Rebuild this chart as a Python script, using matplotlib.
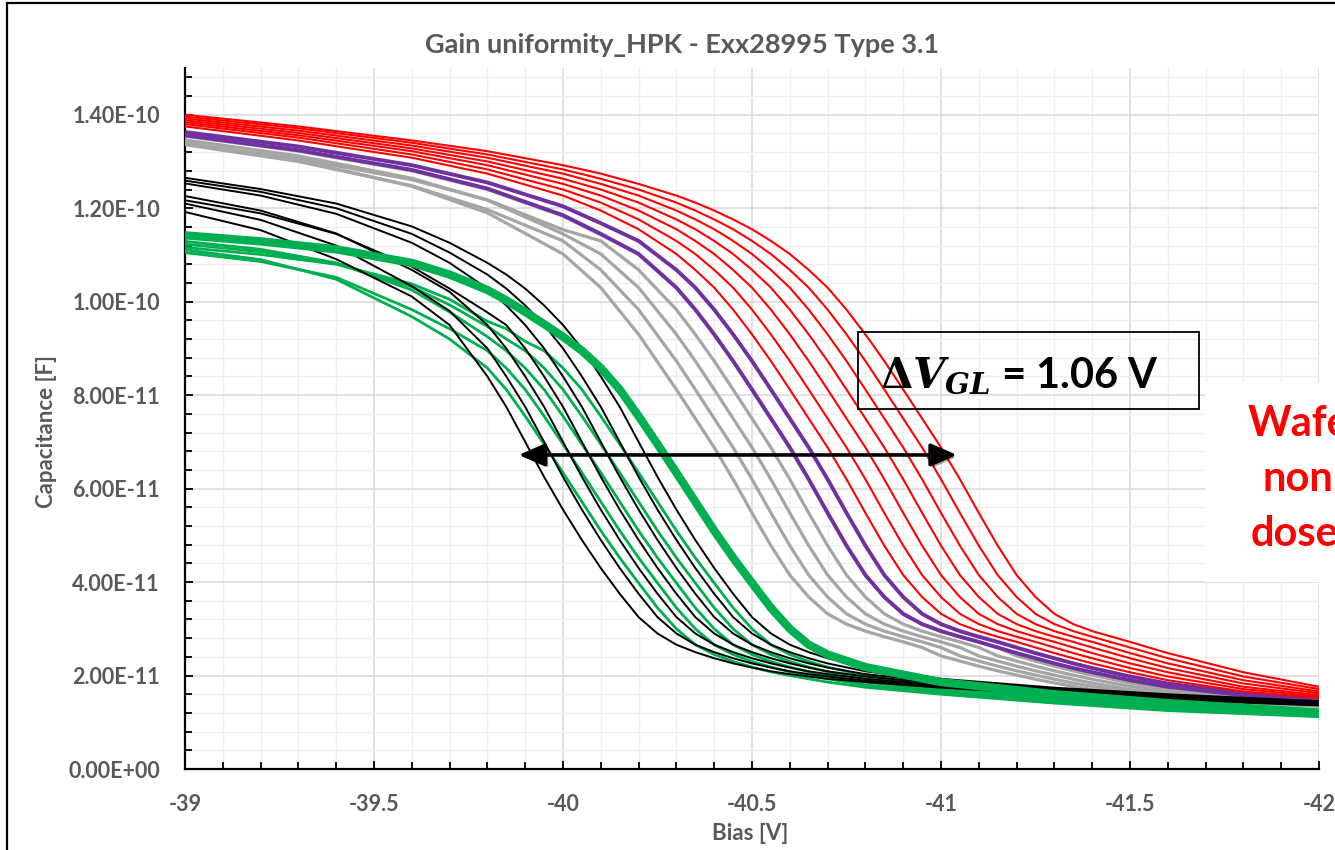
import matplotlib.pyplot as plt
import matplotlib.patheffects as pe
from matplotlib.patches import Rectangle
from matplotlib.ticker import MultipleLocator, FuncFormatter

plt.rcParams['font.family'] = ['Lato', 'DejaVu Sans']
plt.rcParams['font.weight'] = 'bold'
plt.rcParams['mathtext.fontset'] = 'custom'
plt.rcParams['mathtext.rm'] = 'DejaVu Serif:bold'
plt.rcParams['mathtext.it'] = 'DejaVu Serif:italic:bold'
plt.rcParams['mathtext.bf'] = 'DejaVu Serif:bold'

TITLE = 'Gain uniformity_HPK - Exx28995 Type 3.1'
X_LABEL = 'Bias [V]'
Y_LABEL = 'Capacitance [F]'
DELTA_TEXT = r'$\Delta V_{GL}$ = 1.06 V'
NOTE_TEXT = 'Wafer\nnon-\ndosed'

# capacitance values are in units of 1E-11 F
SCALE = 1e-11

# bias points used for the late curves (grey, purple, red)
GRID_HIGH = [-39.0, -39.3, -39.6, -39.8, -40.0, -40.1, -40.2, -40.3, -40.35, -40.4,
             -40.45, -40.5, -40.55, -40.6, -40.65, -40.7, -40.75, -40.8, -40.85, -40.9,
             -40.95, -41.0, -41.05, -41.1, -41.15, -41.2, -41.25, -41.3, -41.35, -41.4,
             -41.5, -41.6, -41.8, -42.0]

# bias points used for the early curves (black, green)
GRID_LOW = [-39.0, -39.2, -39.4, -39.6, -39.7, -39.8, -39.85, -39.9, -39.95, -40.0,
            -40.05, -40.1, -40.15, -40.2, -40.25, -40.3, -40.35, -40.4, -40.45, -40.5,
            -40.55, -40.6, -40.65, -40.7, -40.8, -41.0, -41.3, -41.6, -42.0]

RED = [
    [14.00, 13.75, 13.45, 13.22, 12.92, 12.74, 12.52, 12.27, 12.12, 11.95, 11.76, 11.55, 11.30, 11.02, 10.68, 10.30,
     9.83, 9.30, 8.73, 8.12, 7.50, 6.88, 6.20, 5.48, 4.78, 4.15, 3.68, 3.32, 3.10, 2.95, 2.72, 2.48, 2.07, 1.76],
    [13.96, 13.71, 13.40, 13.15, 12.83, 12.63, 12.40, 12.12, 11.95, 11.76, 11.55, 11.30, 11.02, 10.68, 10.30, 9.83,
     9.30, 8.73, 8.12, 7.50, 6.88, 6.20, 5.48, 4.78, 4.15, 3.68, 3.32, 3.10, 2.95, 2.83, 2.60, 2.37, 1.98, 1.71],
    [13.92, 13.66, 13.34, 13.08, 12.74, 12.52, 12.27, 11.95, 11.76, 11.55, 11.30, 11.02, 10.68, 10.30, 9.83, 9.30,
     8.73, 8.12, 7.50, 6.88, 6.20, 5.48, 4.78, 4.15, 3.68, 3.32, 3.10, 2.95, 2.83, 2.72, 2.48, 2.26, 1.90, 1.66],
    [13.88, 13.61, 13.28, 13.00, 12.63, 12.40, 12.12, 11.76, 11.55, 11.30, 11.02, 10.68, 10.30, 9.83, 9.30, 8.73,
     8.12, 7.50, 6.88, 6.20, 5.48, 4.78, 4.15, 3.68, 3.32, 3.10, 2.95, 2.83, 2.72, 2.60, 2.37, 2.16, 1.83, 1.62],
    [13.84, 13.56, 13.22, 12.92, 12.52, 12.27, 11.95, 11.55, 11.30, 11.02, 10.68, 10.30, 9.83, 9.30, 8.73, 8.12,
     7.50, 6.88, 6.20, 5.48, 4.78, 4.15, 3.68, 3.32, 3.10, 2.95, 2.83, 2.72, 2.60, 2.48, 2.26, 2.07, 1.76, 1.58],
    [13.80, 13.51, 13.15, 12.83, 12.40, 12.12, 11.76, 11.30, 11.02, 10.68, 10.30, 9.83, 9.30, 8.73, 8.12, 7.50,
     6.88, 6.20, 5.48, 4.78, 4.15, 3.68, 3.32, 3.10, 2.95, 2.83, 2.72, 2.60, 2.48, 2.37, 2.16, 1.98, 1.71, 1.55],
    [13.75, 13.45, 13.08, 12.74, 12.27, 11.95, 11.55, 11.02, 10.68, 10.30, 9.83, 9.30, 8.73, 8.12, 7.50, 6.88,
     6.20, 5.48, 4.78, 4.15, 3.68, 3.32, 3.10, 2.95, 2.83, 2.72, 2.60, 2.48, 2.37, 2.26, 2.07, 1.90, 1.66, 1.52],
]

PURPLE = [
    [13.63, 13.32, 12.92, 12.55, 12.04, 11.68, 11.30, 10.68, 10.30, 9.83, 9.30, 8.73, 8.12, 7.50, 6.88, 6.20,
     5.48, 4.78, 4.15, 3.68, 3.32, 3.10, 2.95, 2.83, 2.72, 2.60, 2.48, 2.37, 2.26, 2.16, 1.98, 1.83, 1.62, 1.50],
    [13.56, 13.24, 12.82, 12.42, 11.85, 11.45, 11.02, 10.30, 9.83, 9.30, 8.73, 8.12, 7.50, 6.88, 6.20, 5.48,
     4.78, 4.15, 3.68, 3.32, 3.10, 2.95, 2.83, 2.72, 2.60, 2.48, 2.37, 2.26, 2.16, 2.07, 1.90, 1.76, 1.58, 1.48],
]

GREY = [
    [13.54, 13.22, 12.80, 12.40, 11.83, 11.43, 11.02, 10.30, 9.83, 9.30, 8.73, 8.12, 7.50, 6.88, 6.20, 5.48,
     4.78, 4.15, 3.68, 3.32, 3.10, 2.95, 2.83, 2.72, 2.60, 2.42, 2.31, 2.20, 2.10, 2.01, 1.84, 1.70, 1.52, 1.42],
    [13.39, 13.06, 12.61, 12.18, 11.54, 11.30, 10.68, 9.83, 9.30, 8.73, 8.12, 7.50, 6.88, 6.20, 5.48, 4.78,
     4.15, 3.68, 3.32, 3.10, 2.95, 2.83, 2.72, 2.60, 2.42, 2.31, 2.20, 2.10, 2.01, 1.92, 1.77, 1.65, 1.49, 1.40],
    [13.46, 13.12, 12.64, 12.17, 11.45, 11.02, 10.30, 9.30, 8.73, 8.12, 7.50, 6.88, 6.20, 5.48, 4.78, 4.15,
     3.68, 3.32, 3.10, 2.95, 2.83, 2.72, 2.60, 2.42, 2.31, 2.20, 2.10, 2.01, 1.92, 1.84, 1.70, 1.60, 1.46, 1.38],
    [13.36, 13.00, 12.48, 11.97, 11.30, 10.68, 9.83, 8.73, 8.12, 7.50, 6.88, 6.20, 5.48, 4.78, 4.15, 3.68,
     3.32, 3.10, 2.95, 2.83, 2.72, 2.60, 2.42, 2.31, 2.20, 2.10, 2.01, 1.92, 1.84, 1.77, 1.65, 1.56, 1.44, 1.36],
    [13.40, 13.03, 12.47, 11.90, 11.02, 10.30, 9.30, 8.12, 7.50, 6.88, 6.20, 5.48, 4.78, 4.15, 3.68, 3.32,
     3.10, 2.95, 2.83, 2.72, 2.60, 2.42, 2.31, 2.20, 2.10, 2.01, 1.92, 1.84, 1.77, 1.70, 1.60, 1.52, 1.42, 1.34],
]

BLACK = [
    [11.92, 11.53, 10.91, 10.11, 9.50, 8.40, 7.75, 7.00, 6.25, 5.55, 4.90, 4.30, 3.75, 3.25, 2.90, 2.66,
     2.50, 2.37, 2.26, 2.17, 2.09, 2.03, 1.98, 1.93, 1.86, 1.74, 1.60, 1.48, 1.36],
    [12.10, 11.75, 11.20, 10.33, 9.80, 9.00, 8.40, 7.75, 7.00, 6.25, 5.55, 4.90, 4.30, 3.75, 3.25, 2.90,
     2.66, 2.50, 2.37, 2.26, 2.17, 2.09, 2.03, 1.98, 1.89, 1.77, 1.62, 1.50, 1.37],
    [12.26, 11.95, 11.46, 10.68, 10.21, 9.50, 9.00, 8.40, 7.75, 7.00, 6.25, 5.55, 4.90, 4.30, 3.75, 3.25,
     2.90, 2.66, 2.50, 2.37, 2.26, 2.17, 2.09, 2.03, 1.93, 1.80, 1.64, 1.52, 1.38],
    [12.17, 11.89, 11.45, 10.75, 10.28, 9.77, 9.50, 9.00, 8.40, 7.75, 7.00, 6.25, 5.55, 4.90, 4.30, 3.75,
     3.25, 2.90, 2.66, 2.50, 2.37, 2.26, 2.17, 2.09, 1.98, 1.83, 1.67, 1.54, 1.40],
    [12.53, 12.27, 11.88, 11.26, 10.83, 10.28, 9.92, 9.50, 9.00, 8.40, 7.75, 7.00, 6.25, 5.55, 4.90, 4.30,
     3.75, 3.25, 2.90, 2.66, 2.50, 2.37, 2.26, 2.17, 2.03, 1.86, 1.69, 1.56, 1.41],
    [12.59, 12.35, 12.00, 11.45, 11.05, 10.58, 10.28, 9.92, 9.50, 9.00, 8.40, 7.75, 7.00, 6.25, 5.55, 4.90,
     4.30, 3.75, 3.25, 2.90, 2.66, 2.50, 2.37, 2.26, 2.09, 1.89, 1.72, 1.58, 1.43],
    [12.65, 12.41, 12.10, 11.61, 11.26, 10.83, 10.58, 10.28, 9.92, 9.50, 9.00, 8.40, 7.75, 7.00, 6.25, 5.55,
     4.90, 4.30, 3.75, 3.25, 2.90, 2.66, 2.50, 2.37, 2.17, 1.93, 1.74, 1.60, 1.45],
]

GREEN = [
    [11.11, 10.90, 10.48, 9.68, 9.20, 8.58, 8.12, 7.55, 6.95, 6.34, 5.72, 5.10, 4.52, 3.98, 3.45, 3.00,
     2.66, 2.45, 2.30, 2.18, 2.08, 2.00, 1.93, 1.86, 1.75, 1.60, 1.41, 1.25, 1.12],
    [11.05, 10.86, 10.52, 9.83, 9.42, 8.95, 8.58, 8.12, 7.55, 6.95, 6.34, 5.72, 5.10, 4.52, 3.98, 3.45,
     3.00, 2.66, 2.45, 2.30, 2.18, 2.08, 2.00, 1.93, 1.80, 1.63, 1.44, 1.27, 1.13],
    [11.29, 11.12, 10.83, 10.25, 9.78, 9.25, 8.95, 8.58, 8.12, 7.55, 6.95, 6.34, 5.72, 5.10, 4.52, 3.98,
     3.45, 3.00, 2.66, 2.45, 2.30, 2.18, 2.08, 2.00, 1.86, 1.67, 1.47, 1.30, 1.15],
    [11.23, 11.07, 10.82, 10.32, 9.93, 9.47, 9.20, 8.95, 8.58, 8.12, 7.55, 6.95, 6.34, 5.72, 5.10, 4.52,
     3.98, 3.45, 3.00, 2.66, 2.45, 2.30, 2.18, 2.08, 1.93, 1.71, 1.50, 1.32, 1.16],
    [11.16, 11.01, 10.80, 10.38, 10.05, 9.58, 9.42, 9.15, 8.95, 8.58, 8.12, 7.55, 6.95, 6.34, 5.72, 5.10,
     4.52, 3.98, 3.45, 3.00, 2.66, 2.45, 2.30, 2.18, 2.00, 1.75, 1.53, 1.35, 1.18],
]

# the heavy green bundle
GREEN_BUNDLE = [11.42, 11.29, 11.12, 10.83, 10.58, 10.25, 10.03, 9.78, 9.52, 9.25, 8.95, 8.58, 8.12, 7.55,
                6.95, 6.34, 5.72, 5.10, 4.52, 3.98, 3.45, 3.00, 2.66, 2.45, 2.18, 1.86, 1.60, 1.41, 1.21]

# double arrow for the spread
ARROW_FROM = -39.883
ARROW_TO = -41.042
ARROW_AT = 6.72e-11

TEXT_GREY = '#595959'
W, H = 1335, 850

fig = plt.figure(figsize=(W / 100, H / 100), dpi=100)
ax = fig.add_axes([185 / W, 81 / H, 1134 / W, 701 / H])


def draw(grid, curves, color, lw):
    for c in curves:
        ax.plot(grid, [v * SCALE for v in c], color=color, lw=lw, solid_capstyle='round',
                solid_joinstyle='round', zorder=3)


draw(GRID_HIGH, GREY, '#a5a5a5', 2.3)
draw(GRID_HIGH, PURPLE, '#7030a0', 2.8)
draw(GRID_HIGH, RED, '#ff0000', 1.5)
draw(GRID_LOW, GREEN, '#00b050', 2.0)
draw(GRID_LOW, BLACK, '#000000', 1.4)
draw(GRID_LOW, [GREEN_BUNDLE], '#00b050', 6.0)

ax.set_xlim(-39, -42)
ax.set_ylim(0, 1.5e-10)
ax.xaxis.set_major_locator(MultipleLocator(0.5))
ax.xaxis.set_minor_locator(MultipleLocator(0.1))
ax.yaxis.set_major_locator(MultipleLocator(2e-11))
ax.yaxis.set_minor_locator(MultipleLocator(4e-12))
ax.xaxis.set_major_formatter(FuncFormatter(lambda v, p: '%g' % v))
ax.yaxis.set_major_formatter(FuncFormatter(lambda v, p: '%.2E' % v))
ax.xaxis.get_offset_text().set_visible(False)
ax.yaxis.get_offset_text().set_visible(False)

ax.grid(which='major', color='#d9d9d9', lw=1.1)
ax.grid(which='minor', color='#efefef', lw=1.0)
ax.set_axisbelow(True)

ax.tick_params(which='both', direction='in', color='black', width=1.3)
ax.tick_params(which='major', length=6, labelsize=15.5, labelcolor=TEXT_GREY, pad=18)
ax.tick_params(which='minor', length=5)
for s in ['top', 'right']:
    ax.spines[s].set_visible(False)
for s in ['left', 'bottom']:
    ax.spines[s].set_linewidth(1.6)
    ax.spines[s].set_color('black')

arr = ax.annotate('', xy=(ARROW_TO, ARROW_AT), xytext=(ARROW_FROM, ARROW_AT),
                  arrowprops=dict(arrowstyle='<|-|>,head_length=0.8,head_width=0.35', color='black',
                                  lw=2.6, shrinkA=0, shrinkB=0, mutation_scale=20), zorder=6)
arr.arrow_patch.set_path_effects([pe.SimplePatchShadow(offset=(2, -2), alpha=0.35), pe.Normal()])

# titles
fig.text(682 / W, 1 - 45 / H, TITLE, ha='center', va='center', fontsize=19.5, color=TEXT_GREY)
fig.text(47 / W, 1 - 432 / H, Y_LABEL, ha='center', va='center', rotation=90, fontsize=16, color=TEXT_GREY)
fig.text(750 / W, 1 - 833 / H, X_LABEL, ha='center', va='center', fontsize=16, color=TEXT_GREY)

# outer frame of the chart (only left and top edge are in view)
fig.add_artist(Rectangle((7 / W, -0.1), 1.2, 1.1 - 3 / H, fill=False, ec='black', lw=1.6,
                         transform=fig.transFigure))

# box with the voltage spread
fig.add_artist(Rectangle((858 / W, 1 - 409 / H), 341 / W, 77 / H, fill=False, ec='black', lw=1.3,
                         transform=fig.transFigure))
fig.text(880 / W, 1 - 387 / H, DELTA_TEXT, ha='left', va='baseline', fontsize=30, color='black')

# white label block on the right (the chart is cropped there, as in the source)
fig.add_artist(Rectangle((1205 / W, 1 - 582 / H), 0.2, 200 / H, fc='white', ec='none',
                         transform=fig.transFigure))
fig.text(1306 / W, 1 - 479 / H, NOTE_TEXT, ha='center', va='center', fontsize=30, color='#ff0000',
         linespacing=1.55)

plt.savefig('out.png', dpi=100)
